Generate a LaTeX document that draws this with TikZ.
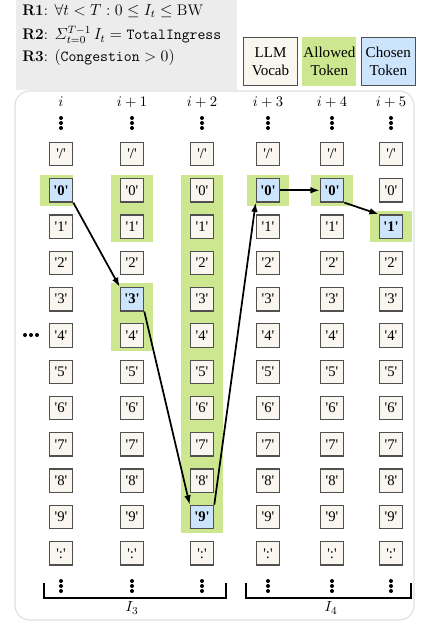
\documentclass[tikz,border=0pt]{standalone}
\usepackage{amsmath,amssymb}
\usepackage{fontspec}
\usepackage{tikz}
\usetikzlibrary{positioning,arrows.meta,fit,backgrounds}
\newfontfamily\tokfont{Liberation Serif}
\definecolor{VocabCream}{RGB}{248,246,238}
\definecolor{AllowGreen}{RGB}{204,231,143}
\definecolor{ChosenBlue}{RGB}{204,228,252}
\definecolor{BoxGray}{RGB}{80,80,80}
\definecolor{PanelGray}{RGB}{236,236,236}
\definecolor{FrameGray}{RGB}{222,222,222}
\newcommand{\toklabel}[1]{\textquotesingle\ifcase#1 /\or 0\or 1\or 2\or 3\or 4\or 5\or 6\or 7\or 8\or 9\or :\fi\textquotesingle}

\begin{document}
\begin{tikzpicture}[x=0.75pt, y=-0.75pt, >=Latex, font=\fontsize{11}{13}\selectfont]
      \tikzset{
        vocab/.style={draw=BoxGray, line width=0.95pt, fill=VocabCream, minimum width=17.5pt, minimum height=17.5pt, inner sep=0pt, font=\tokfont\fontsize{11}{12}\selectfont},
        chosen/.style={vocab, fill=ChosenBlue, font=\tokfont\bfseries\fontsize{11}{12}\selectfont},
        allowed/.style={fill=AllowGreen, inner xsep=6.5pt, inner ysep=2.6pt},
        legend/.style={minimum width=40.5pt, minimum height=36.5pt, align=center, inner sep=0pt, font=\tokfont\fontsize{11.3}{13.5}\selectfont},
        rule/.style={anchor=base west, inner sep=0pt, font=\fontsize{11.5}{13}\selectfont},
        pick/.style={->, line width=1.3pt, >={Latex[length=7pt,width=5pt]}},
        brace/.style={line width=0.8pt}
      }
      \useasboundingbox (0,0) rectangle (431,623);

      % rules panel and legend
      \fill[PanelGray] (16,0) rectangle (237,90);
      \node[rule] (r1) at (22,15.5) {\textbf{R1}: $\forall t < T : 0 \leq I_t \leq \mathrm{BW}$};
      \node[rule] (r2) at (22,40) {\textbf{R2}: $\varSigma_{t=0}^{T-1}\, I_t = \texttt{TotalIngress}$};
      \node[rule] (r3) at (22,62) {\textbf{R3}: $(\texttt{Congestion} > 0)$};

      \node[legend, draw=BoxGray, line width=0.95pt, fill=VocabCream] (lvocab) at (270.5,61.5) {LLM\\Vocab};
      \node[legend, fill=AllowGreen, right=3pt of lvocab] (lallow) {Allowed\\Token};
      \node[legend, draw=BoxGray, line width=0.95pt, fill=ChosenBlue, right=3pt of lallow] (lchosen) {Chosen\\Token};

      % vocabulary columns
      \foreach \x/\h/\pick [count=\c from 0] in {61/i/1, 132/i+1/4, 202/i+2/10, 268/i+3/1, 332/i+4/1, 391/i+5/2} {
        \node (h\c) at (\x,102) {$\h$};
        \foreach \k in {-5,0,5} {
          \fill (\x,123+\k) circle (2);
          \fill (\x,586+\k) circle (2);
        }
        \foreach \r in {0,...,11} {
          \ifnum\r=\pick
            \node[chosen] (v\c-\r) at (\x,{154+36.3*\r}) {\toklabel{\r}};
          \else
            \node[vocab] (v\c-\r) at (\x,{154+36.3*\r}) {\toklabel{\r}};
          \fi
        }
      }
      \foreach \x in {25,31,37} \fill (\x,335) circle (2);

      % allowed tokens and frame
      \begin{scope}[on background layer]
        \draw[FrameGray, line width=0.8pt, rounded corners=11pt] (15,91) rectangle (414,620);
        \node[allowed, fit=(v0-1), inner xsep=3.3pt, xshift=-3.3pt] (a0) {};
        \node[allowed, fit=(v1-1)(v1-2)] (a1) {};
        \node[allowed, fit=(v1-4)(v1-5)] (a1b) {};
        \node[allowed, fit=(v2-1)(v2-10)] (a2) {};
        \node[allowed, fit=(v3-1)] (a3) {};
        \node[allowed, fit=(v4-1)] (a4) {};
        \node[allowed, fit=(v5-2)] (a5) {};
      \end{scope}

      % chosen path
      \draw[pick] (v0-1.south east) -- (v1-4.north west);
      \draw[pick] (v1-4.south east) -- (v2-10.north west);
      \draw[pick] (v2-10.north east) -- (v3-1.south west);
      \draw[pick] (v3-1.east) -- (v4-1.west);
      \draw[pick] (v4-1.south east) -- (v5-2.north west);

      % intervals
      \draw[brace] (44,583) -- (44,598) -- (226,598) -- (226,583);
      \draw[brace] (246,583) -- (246,598) -- (411,598) -- (411,583);
      \node (i3) at (132,608) {$I_3$};
      \node (i4) at (331,608) {$I_4$};
    \end{tikzpicture}
\end{document}
